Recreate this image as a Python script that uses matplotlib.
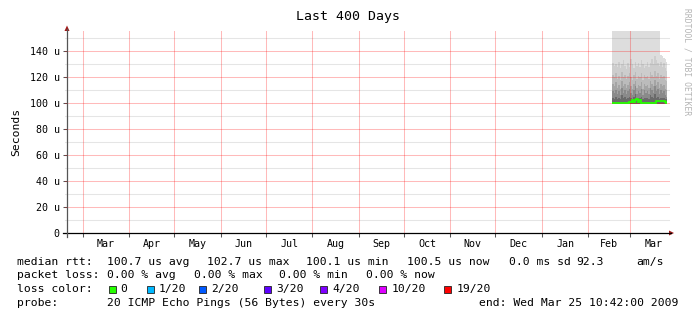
import datetime as dt
import numpy as np
import matplotlib
matplotlib.use("Agg")
import matplotlib.pyplot as plt
import matplotlib.dates as mdates
from matplotlib.patches import Rectangle, Polygon
from matplotlib.lines import Line2D

# ---------------- data ----------------
title = "Last 400 Days"
y_label = "Seconds"
end_time = dt.datetime(2009, 3, 25, 10, 42, 0)
span_days = 400
y_max = 155.6  # microseconds
y_ticks = [0, 20, 40, 60, 80, 100, 120, 140]
y_tick_labels = ["0", "20 u", "40 u", "60 u", "80 u", "100 u", "120 u", "140 u"]
month_names = ["Mar", "Apr", "May", "Jun", "Jul", "Aug", "Sep", "Oct", "Nov",
               "Dec", "Jan", "Feb", "Mar"]

smoke_start = dt.datetime(2009, 2, 17)
smoke_floor = 99.5
# smoke layers (upper edge, microseconds), lightest first, one value per day
smoke_l1 = [160] * 32 + [137, 136, 135, 134, 132]
smoke_l2 = [131, 129, 130, 128, 132, 127, 130, 133, 129, 126, 131, 128, 134, 130, 127, 132, 129, 131, 128, 133,
            130, 127, 129, 132, 128, 131, 134, 130, 136, 133, 131, 129, 132, 128, 131, 127, 125]
smoke_l3 = [122, 120, 123, 119, 121, 118, 124, 120, 122, 119, 121, 123, 120, 118, 122, 124, 119, 121, 120, 123,
            118, 122, 120, 121, 119, 124, 122, 120, 125, 121, 123, 119, 122, 120, 121, 118, 117]
smoke_l4 = [115, 113, 116, 112, 114, 111, 117, 113, 115, 112, 114, 116, 113, 111, 115, 117, 112, 114, 113, 116,
            111, 115, 113, 114, 112, 117, 115, 113, 118, 114, 116, 112, 115, 113, 114, 111, 110]
smoke_l5 = [109, 108, 110, 107, 109, 106, 112, 108, 110, 107, 109, 111, 108, 106, 110, 113, 107, 109, 108, 111,
            106, 110, 108, 109, 107, 112, 110, 108, 113, 109, 111, 107, 110, 108, 109, 106, 105]
smoke_l6 = [104, 103.5, 105, 103, 104, 103, 106, 104, 105, 103, 104, 105, 104, 103, 105, 107, 103, 104, 104, 105,
            103, 104, 104, 104, 103, 106, 105, 104, 107, 104, 105, 103, 104, 104, 104, 103, 103]
median_rtt = [100.2, 100.3, 100.2, 100.4, 100.3, 100.2, 100.3, 100.5, 100.4, 100.3, 100.4, 100.6,
              101.2, 102.8, 100.6, 102.4, 103.0, 101.0, 102.1,
              100.5, 100.4, 100.3, 100.2, 100.3, 100.2, 100.3, 100.4, 100.3, 100.4,
              101.7, 101.9, 101.6, 101.8, 101.5, 102.0, 101.2, 100.4]

smoke_colors = ["#dddddd", "#cdcdcd", "#bbbbbb", "#a4a4a4", "#8a8a8a", "#6a6a6a"]

legend_rtt = ["median rtt:", "100.7 us avg", "102.7 us max", "100.1 us min", "100.5 us now",
              "0.0 ms sd", "92.3", "am/s"]
legend_loss = ["packet loss:", "0.00 % avg", "0.00 % max", "0.00 % min", "0.00 % now"]
loss_labels = ["0", "1/20", "2/20", "3/20", "4/20", "10/20", "19/20"]
loss_colors = ["#26ff00", "#00b8ff", "#0059ff", "#5e00ff", "#7e00ff", "#dd00ff", "#ff0000"]
probe_text = ["probe:", "20 ICMP Echo Pings (56 Bytes) every 30s", "end: Wed Mar 25 10:42:00 2009"]
watermark = "RRDTOOL / TOBI OETIKER"

# ---------------- layout helpers ----------------
W, H = 697, 321
def fx(x): return x / W
def fy(y): return 1 - y / H

MONO = "DejaVu Sans Mono"
fig = plt.figure(figsize=(W / 100, H / 100), dpi=100)
fig.patch.set_facecolor("white")
ax = fig.add_axes([fx(67), fy(233), 600 / W, (233 - 31) / H])
ax.set_facecolor("white")

start_time = end_time - dt.timedelta(days=span_days)
x0, x1 = mdates.date2num(start_time), mdates.date2num(end_time)
ax.set_xlim(x0, x1)
ax.set_ylim(0, y_max)

# smoke
edges = mdates.date2num([smoke_start + dt.timedelta(days=i) for i in range(len(median_rtt) + 1)])
floor = np.full(len(median_rtt), smoke_floor)
for layer, col in zip([smoke_l1, smoke_l2, smoke_l3, smoke_l4, smoke_l5, smoke_l6], smoke_colors):
    vals = np.minimum(np.array(layer, dtype=float), y_max)
    ax.stairs(vals, edges, baseline=floor, fill=True, color=col, lw=0, zorder=1)

# grid (on top of smoke)
minor_col = (0.5, 0.5, 0.5, 0.2)
major_col = (1.0, 0.0, 0.0, 0.27)
ext = 2 / 600
for v in np.arange(10, y_max, 20):
    ax.axhline(v, xmin=-ext, xmax=1 + ext, color=minor_col, lw=0.75, clip_on=False, zorder=2)
for v in y_ticks[1:]:
    ax.axhline(v, xmin=-ext, xmax=1 + ext, color=major_col, lw=0.75, clip_on=False, zorder=2)

# months
month_starts = []
y, m = 2008, 3
for _ in range(len(month_names) + 1):
    month_starts.append(dt.datetime(y, m, 1))
    m += 1
    if m > 12:
        m, y = 1, y + 1
ms_num = mdates.date2num(month_starts)
for v in ms_num[:len(month_names)]:
    ax.axvline(v, color=major_col, lw=0.75, zorder=2)
label_pos = [(a + b) / 2 for a, b in zip(ms_num[:-1], ms_num[1:])]

# median line
ax.stairs(median_rtt, edges, baseline=None, fill=False, color="#26ff00", lw=1.3, zorder=3)

# ticks
ax.set_xticks(ms_num[:len(month_names)])
ax.set_xticklabels([])
ax.set_xticks(label_pos, minor=True)
ax.set_xticklabels(month_names, minor=True, fontfamily=MONO, fontsize=7.2)
ax.tick_params(axis="x", which="major", length=3, width=0.75, color="#555555", direction="out")
ax.tick_params(axis="x", which="minor", length=0, pad=4.5)
ax.set_yticks(y_ticks)
ax.set_yticklabels(y_tick_labels, fontfamily=MONO, fontsize=7.2)
ax.tick_params(axis="y", length=3, width=0.75, color="#555555", pad=2.2)
for s in ax.spines.values():
    s.set_visible(False)

# axis lines + arrows
fig.add_artist(Line2D([fx(63), fx(671)], [fy(233), fy(233)], color="black", lw=0.9))
fig.add_artist(Line2D([fx(67), fx(67)], [fy(237), fy(29)], color="#555555", lw=0.9))
arrow_col = "#a01a1a"
fig.add_artist(Polygon([[fx(669), fy(230.5)], [fx(674), fy(233)], [fx(669), fy(235.5)]],
                       closed=True, color=arrow_col, lw=0))
fig.add_artist(Polygon([[fx(64.5), fy(31)], [fx(67), fy(25.5)], [fx(69.5), fy(31)]],
                       closed=True, color=arrow_col, lw=0))

# title, axis label, watermark
fig.text(fx(348), fy(20), title, fontfamily=MONO, fontsize=9.5, ha="center", va="baseline")
fig.text(fx(16), fy(132), y_label, fontfamily=MONO, fontsize=8.2, rotation=90, ha="center", va="center")
fig.text(fx(686.5), fy(62), watermark, fontfamily=MONO, fontsize=5.8, rotation=270,
         ha="center", va="center", color="#b4b4b4")

# legend
LFS = 8.2
rtt_x = [17.3, 107.3, 207.3, 306, 407.3, 508.7, 576.7, 636]
for t, x in zip(legend_rtt, rtt_x):
    fig.text(fx(x), fy(265), t, fontfamily=MONO, fontsize=LFS, va="baseline")
loss_x = [17.3, 107.3, 194.3, 279.3, 366]
for t, x in zip(legend_loss, loss_x):
    fig.text(fx(x), fy(278.5), t, fontfamily=MONO, fontsize=LFS, va="baseline")
fig.text(fx(17.3), fy(292.3), "loss color:", fontfamily=MONO, fontsize=LFS, va="baseline")
box_x = [108.5, 146.7, 198.7, 264, 320, 379.3, 444.3]
for lab, col, bx in zip(loss_labels, loss_colors, box_x):
    fig.add_artist(Rectangle((fx(bx), fy(293.3)), 7 / W, 7 / H, transform=fig.transFigure,
                             facecolor=col, edgecolor="#222222", lw=0.6))
    fig.text(fx(bx + 12), fy(292.3), lab, fontfamily=MONO, fontsize=LFS, va="baseline")
probe_x = [17.3, 107.3, 479]
for t, x in zip(probe_text, probe_x):
    fig.text(fx(x), fy(306), t, fontfamily=MONO, fontsize=LFS, va="baseline")

fig.savefig("out.png", dpi=100, facecolor="white")
